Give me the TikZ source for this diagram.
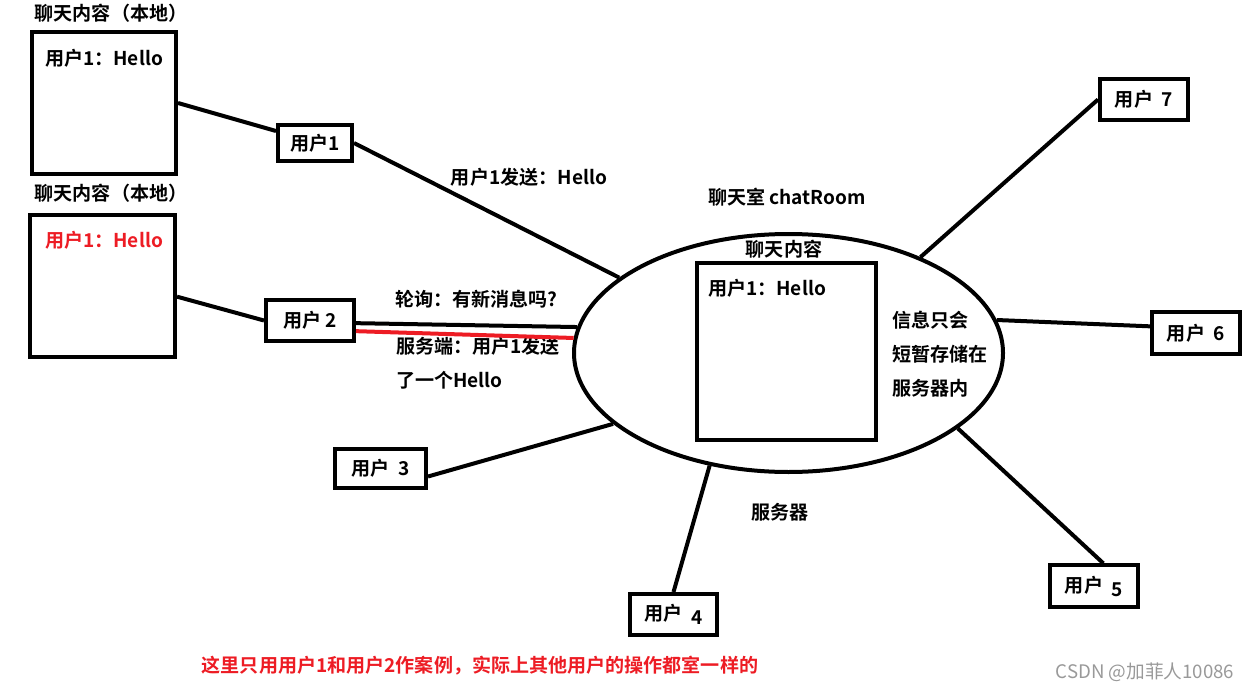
\documentclass[tikz,border=0pt]{standalone}
\usepackage{fontspec}
\setmainfont{Noto Sans CJK SC}[BoldFont={Noto Sans CJK SC Bold}]
\usepackage{xcolor}
\usetikzlibrary{shapes.geometric,calc}
\definecolor{paintred}{RGB}{237,28,36}

\begin{document}
\begin{tikzpicture}[x=0.75pt,y=-0.75pt,every node/.style={align=center,inner sep=0pt,font=\bfseries\fontsize{14.3}{25.5}\selectfont},
  box/.style={draw,line width=3pt},
  user/.style={box,minimum width=66pt,minimum height=31pt},
  wire/.style={line width=3pt}]
  \useasboundingbox (0,0) rectangle (1256,692);
  \node[box,minimum width=108pt,minimum height=106.5pt] (local1) at (104,103) {};
  \node[box,minimum width=108.75pt,minimum height=106.5pt] (local2) at (102.5,286) {};
  \node at (111,13) {聊天内容（本地）};
  \node at (104,58) {用户1：Hello};
  \node at (111,193) {聊天内容（本地）};
  \node[text=paintred] at (104,240) {用户1：Hello};
  \node[user,minimum width=55.5pt,minimum height=27pt] (u1) at (315,143) {用户1};
  \node[user,minimum height=30.75pt] (u2) at (310,320.5) {用户 2};
  \node[user,minimum width=68.25pt,minimum height=29.25pt] (u3) at (380.5,468.5) {用户\ \ 3};
  \node[user,minimum width=65.25pt,minimum height=30.75pt] (u4) at (673.5,614.5) {用户\ \ \raisebox{-3pt}{4}};
  \node[user] (u5) at (1094,586) {用户\ \ \raisebox{-3pt}{5}};
  \node[user] (u6) at (1196,333) {用户\ \ 6};
  \node[user,minimum height=30.75pt] (u7) at (1144,99.5) {用户\ \ 7};
  \node[draw,ellipse,line width=3pt,minimum width=321.75pt,minimum height=178.5pt] (room) at (788.5,353) {};
  \node[box,minimum width=134.25pt,minimum height=132.75pt] (store) at (786.5,351.5) {};
  \node at (787,197) {聊天室 chatRoom};
  \node at (784,249) {聊天内容};
  \node at (767,288) {用户1：Hello};
  \node[anchor=north west,align=left] at (892,311) {信息只会\\短暂存储在\\服务器内};
  \node at (780,512) {服务器};
  \node at (529,177) {用户1发送：Hello};
  \node[anchor=west] at (395,299) {轮询：有新消息吗?};
  \node[anchor=north west,align=left] at (396,337) {服务端：用户1发送\\了一个Hello};
  \node[text=paintred] at (480,666) {这里只用用户1和用户2作案例，实际上其他用户的操作都室一样的};
  \node[text=black!40,font=\fontsize{14}{16}\selectfont] at (1145,672) {CSDN @加菲人10086};
  \draw[wire] (local1.east) -- ([yshift=9pt]u1.west);
  \draw[wire] (u1.east) -- (room.156.8);
  \draw[wire] ([yshift=-8pt]local2.east) -- (u2.west);
  \draw[wire] ([yshift=-2pt]u2.east) -- (room.173);
  \draw[wire,paintred] ([yshift=-8pt]u2.east) -- (room.176);
  \draw[wire] ([yshift=-6pt]u3.east) -- (room.202.2);
  \draw[wire] (u4.north) -- (room.235.6);
  \draw[wire] ([xshift=7pt]u5.north) -- (room.336.4);
  \draw[wire] ([yshift=5pt]u6.west) -- (room.9.1);
  \draw[wire] (u7.west) -- (room.36.6);
\end{tikzpicture}
\end{document}
